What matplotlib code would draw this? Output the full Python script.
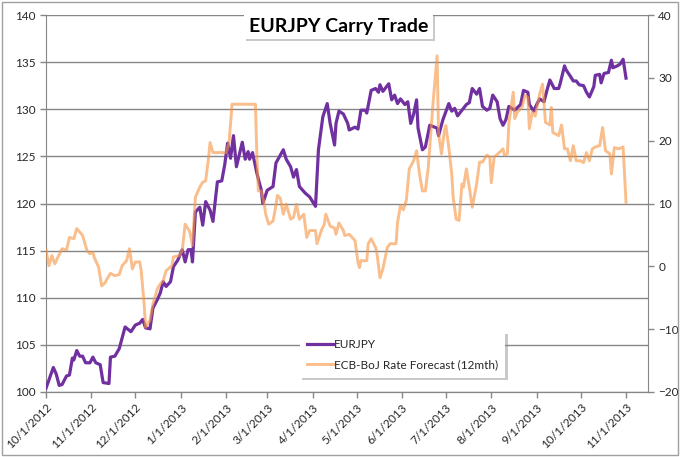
#EURJPY CARRY TRADE CHART

import pandas as pd
import matplotlib
matplotlib.use("Agg")
import matplotlib.pyplot as plt
import matplotlib.patheffects as pe
from matplotlib.patches import Rectangle

plt.rcParams['font.family'] = ['Lato', 'DejaVu Sans']

#DATA (days after 10/1/2012)

start = pd.Timestamp("2012-10-01")

eur_days = [0, 5, 7, 9, 11, 14, 16, 18, 19, 21, 23, 25, 27, 30, 32, 34, 37, 39, 43, 44,
            47, 50, 54, 58, 61, 64, 66, 68, 71, 73, 76, 78, 80, 82, 85, 87, 90, 93, 95, 97,
            99, 100, 102, 105, 107, 109, 112, 114, 117, 120, 122, 124, 126, 128, 130, 134, 136, 138, 139, 141,
            144, 147, 148, 151, 155, 157, 162, 164, 167, 169, 171, 173, 177, 180, 184, 186, 189, 192, 194, 197,
            198, 200, 203, 206, 207, 211, 213, 215, 218, 219, 222, 225, 227, 228, 230, 234, 236, 238, 240, 242,
            245, 247, 249, 251, 253, 254, 257, 259, 262, 267, 268, 271, 275, 277, 279, 281, 284, 287, 289, 291,
            294, 296, 298, 301, 303, 305, 308, 310, 312, 314, 316, 320, 324, 326, 329, 330, 333, 335, 337, 340,
            342, 344, 347, 350, 351, 354, 355, 358, 360, 362, 364, 367, 369, 371, 374, 375, 378, 379, 381, 384,
            386, 387, 390, 392, 394, 396]
eur_vals = [100.4, 102.6, 101.9, 100.7, 100.8, 101.7, 101.8, 103.6, 103.4, 104.4, 103.8, 103.8, 103.1, 103.1, 103.7, 103.1, 102.9, 101.0, 100.9, 103.7,
            103.8, 104.6, 106.9, 106.4, 107.1, 107.3, 107.7, 106.8, 106.7, 108.9, 109.8, 110.5, 111.7, 111.2, 111.7, 113.3, 114.0, 115.1, 113.8, 115.1,
            115.1, 113.8, 119.1, 119.6, 117.7, 120.2, 119.3, 118.1, 122.3, 122.4, 124.1, 126.4, 124.8, 127.2, 123.9, 126.5, 124.7, 125.5, 124.7, 125.4,
            123.2, 121.4, 120.0, 121.4, 121.8, 124.3, 125.7, 124.7, 123.9, 122.8, 123.6, 121.8, 121.1, 120.7, 119.7, 125.7, 129.2, 130.6, 128.5, 126.2,
            128.5, 129.8, 129.5, 128.5, 127.8, 128.1, 127.9, 129.9, 129.9, 129.6, 132.0, 132.2, 131.8, 132.6, 131.9, 132.7, 131.0, 131.5, 130.6, 131.1,
            130.5, 130.8, 128.5, 129.5, 131.0, 128.0, 125.7, 126.0, 128.3, 128.0, 127.2, 128.9, 130.6, 129.8, 130.1, 129.3, 129.9, 130.5, 130.7, 132.2,
            131.6, 132.2, 130.3, 129.9, 130.1, 131.5, 130.8, 129.0, 128.3, 128.9, 130.3, 129.9, 130.5, 132.0, 131.8, 130.5, 129.8, 130.5, 131.1, 130.8,
            132.0, 133.1, 132.2, 132.2, 132.7, 134.6, 134.2, 133.5, 133.0, 133.0, 132.6, 132.5, 131.8, 131.3, 132.4, 133.6, 133.7, 132.8, 133.8, 133.9,
            135.2, 134.4, 134.6, 134.8, 135.3, 133.3]

rate_days = [0, 2, 4, 6, 8, 11, 14, 16, 19, 21, 24, 25, 28, 30, 32, 33, 36, 38, 40, 44,
             47, 50, 52, 55, 57, 59, 61, 64, 65, 67, 68, 71, 73, 76, 78, 80, 82, 86, 87, 91,
             93, 95, 98, 100, 102, 105, 107, 109, 111, 112, 114, 123, 125, 127, 143, 144, 145, 147, 149, 150,
             152, 155, 157, 158, 160, 162, 164, 167, 169, 171, 173, 176, 178, 180, 184, 185, 188, 190, 191, 194,
             197, 198, 200, 203, 204, 207, 211, 213, 214, 215, 219, 220, 222, 225, 226, 228, 230, 233, 235, 239,
             240, 242, 244, 246, 248, 251, 253, 255, 257, 259, 261, 262, 264, 267, 268, 270, 272, 273, 275, 277,
             278, 280, 282, 284, 285, 287, 289, 291, 294, 296, 298, 301, 303, 304, 306, 309, 312, 313, 315, 316,
             319, 320, 322, 325, 327, 329, 330, 332, 334, 337, 339, 341, 344, 345, 346, 350, 352, 354, 356, 358,
             360, 362, 365, 367, 369, 371, 373, 375, 378, 380, 382, 385, 386, 388, 391, 394, 396]
rate_vals = [2.6, 0.1, 1.7, 0.4, 1.4, 2.8, 2.6, 4.6, 4.4, 6.0, 5.2, 4.9, 2.5, 2.0, 2.2, 1.4, -0.2, -3.1, -2.7, -1.1,
             -1.5, -1.3, 0.1, 0.9, 2.8, -0.4, 0.7, 0.7, -0.7, -6.0, -9.7, -8.6, -6.0, -3.6, -2.8, -2.3, -0.7, 0.1, 1.5, 1.7,
             2.5, 6.7, 5.6, 3.3, 11.0, 12.6, 13.4, 13.6, 17.3, 19.7, 18.1, 18.1, 19.7, 25.8, 25.8, 17.3, 12.0, 12.0, 9.9, 8.3,
             6.7, 7.2, 9.7, 11.3, 10.8, 8.3, 9.9, 7.5, 7.8, 9.9, 7.5, 8.3, 4.6, 5.7, 5.7, 3.6, 5.7, 6.7, 8.3, 6.4,
             6.1, 5.1, 6.9, 5.7, 4.9, 5.1, 4.1, 0.6, -0.2, 0.9, 0.9, 3.6, 4.4, 3.0, 2.0, -1.8, -0.4, 3.0, 3.6, 3.6,
             7.0, 9.7, 9.0, 10.5, 15.5, 16.8, 18.4, 14.7, 12.0, 12.0, 15.8, 18.9, 25.3, 33.5, 21.1, 17.9, 21.6, 22.4, 18.9, 14.7,
             11.0, 7.5, 7.3, 13.1, 12.6, 15.5, 12.6, 9.4, 13.1, 16.6, 16.6, 17.7, 17.4, 13.3, 17.4, 18.0, 18.7, 17.7, 17.9, 22.7,
             27.7, 23.5, 24.6, 25.3, 27.2, 26.9, 21.9, 24.6, 23.9, 27.4, 29.0, 22.9, 22.5, 25.3, 21.3, 20.8, 22.5, 18.7, 18.7, 16.8,
             19.2, 16.8, 16.8, 16.5, 18.1, 16.8, 18.7, 19.0, 19.2, 22.1, 18.4, 17.9, 14.7, 18.9, 18.7, 19.0, 10.2]

month_ticks = pd.date_range("2012-10-01", "2013-11-01", freq="MS")
month_labels = [f"{d.month}/{d.day}/{d.year}" for d in month_ticks]
left_ticks = [100, 105, 110, 115, 120, 125, 130, 135, 140]
right_ticks = [-20, -10, 0, 10, 20, 30, 40]

eur_dates = start + pd.to_timedelta(eur_days, unit="D")
rate_dates = start + pd.to_timedelta(rate_days, unit="D")

#PLOT

fig = plt.figure(figsize=(6.8, 4.57), dpi=100)
ax = fig.add_axes([46/680, 1-392/457, 602/680, 377/457])
ax2 = ax.twinx()

grey = "#868686"
txt = "#262626"

l1, = ax.plot(eur_dates, eur_vals, color="#7030A0", lw=2.3, label="EURJPY", zorder=3)
l2, = ax2.plot(rate_dates, rate_vals, color="#F79646", alpha=0.62, lw=2.1,
               label="ECB-BoJ Rate Forecast (12mth)")

ax.set_xlim(start, pd.Timestamp("2013-11-16"))
ax.set_ylim(100, 140)
ax2.set_ylim(-20, 40)

ax.set_yticks(left_ticks)
ax2.set_yticks(right_ticks)
ax.set_xticks(month_ticks)
ax.set_xticklabels(month_labels, rotation=45, ha="right", rotation_mode="anchor")

ax.grid(axis="y", color=grey, lw=1)
ax.set_axisbelow(True)

for a in (ax, ax2):
    for s in a.spines.values():
        s.set_color(grey)
    a.spines["top"].set_visible(False)
    a.tick_params(colors=grey, labelcolor=txt, labelsize=8.5, length=4, width=1)
ax2.spines["left"].set_visible(False)
ax.spines["right"].set_visible(False)
ax.tick_params(axis="x", pad=3)

#SOFT SHADOW
shadow = [pe.withSimplePatchShadow(offset=(1.5, -1.5), shadow_rgbFace="#888888", alpha=0.45), pe.Normal()]

#TITLE BOX
t = fig.text(0.498, 0.943, "EURJPY Carry Trade", ha="center", va="center",
             fontsize=14, fontweight="bold", color="black",
             bbox=dict(boxstyle="square,pad=0.25", fc="white", ec="none"))
t.get_bbox_patch().set_path_effects(shadow)

#LEGEND
leg = ax2.legend(handles=[l1, l2], loc="upper left", bbox_to_anchor=(300/680, 1-332/457),
                 bbox_transform=fig.transFigure, frameon=True, fancybox=False,
                 fontsize=8.5, handlelength=2.2, handletextpad=0.1, labelspacing=0.8,
                 borderpad=0.6, borderaxespad=0)
fr = leg.get_frame()
fr.set_edgecolor("none")
fr.set_facecolor("white")
fr.set_alpha(1)
fr.set_path_effects(shadow)
for tx in leg.get_texts():
    tx.set_color(txt)

#OUTER BORDER
fig.patches.append(Rectangle((0.003, 0.004), 0.994, 0.992, transform=fig.transFigure,
                             fill=False, ec="#a0a0a0", lw=1))

plt.savefig("out.png", dpi=100)
